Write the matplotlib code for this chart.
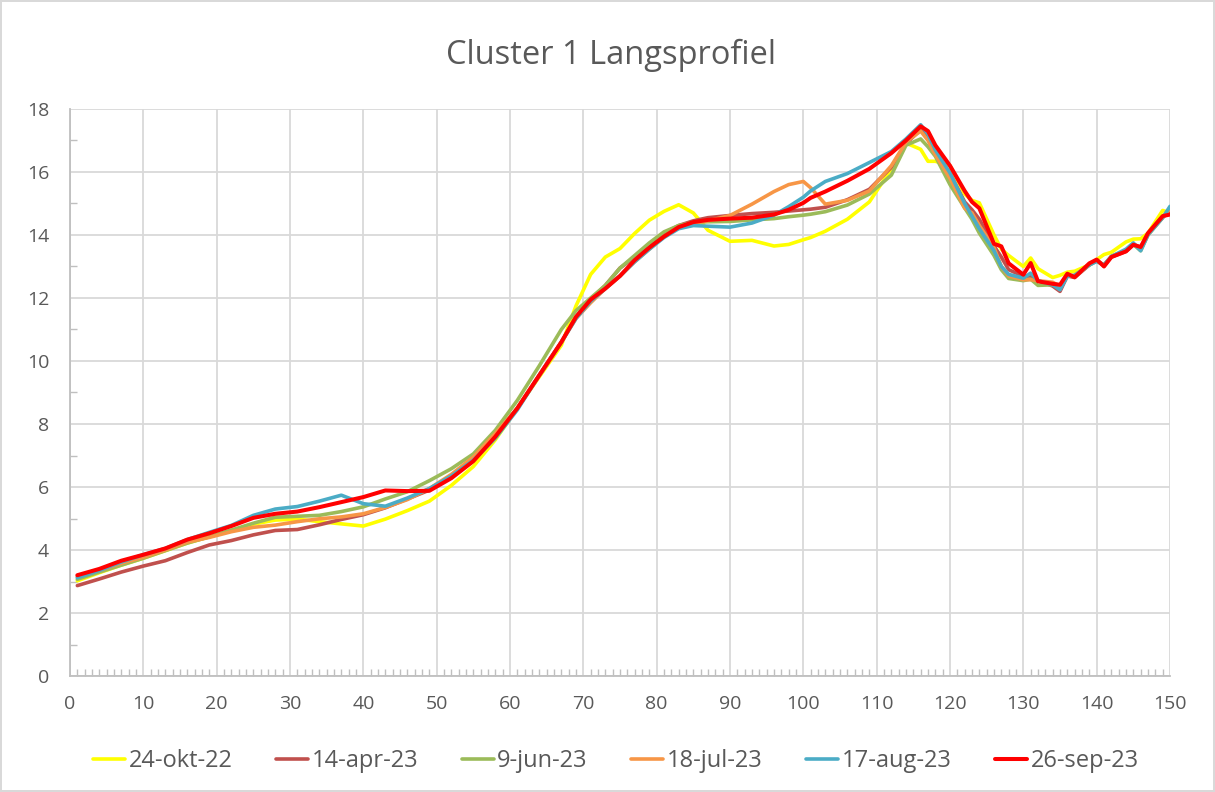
import numpy as np
import matplotlib.pyplot as plt
from matplotlib.ticker import MultipleLocator

# Position along the profile (shared by all series)
km = [1, 4, 7, 10, 13, 16, 19, 22, 25, 28,
      31, 34, 37, 40, 43, 46, 49, 52, 55, 58,
      61, 64, 67, 69, 71, 73, 75, 77, 79, 81,
      83, 85, 87, 90, 93, 96, 98, 100, 101, 103,
      106, 109, 112, 114, 116, 117, 118, 120, 122, 123,
      124, 126, 127, 128, 130, 131, 132, 134, 135, 136,
      137, 139, 140, 141, 142, 144, 145, 146, 147, 149,
      150]

okt22 = [3.02, 3.28, 3.52, 3.74, 3.98, 4.22, 4.42, 4.62, 4.82, 4.95,
         4.98, 4.90, 4.83, 4.76, 4.98, 5.25, 5.55, 6.05, 6.65, 7.50,
         8.50, 9.50, 10.50, 11.75, 12.75, 13.30, 13.57, 14.05, 14.47, 14.75,
         14.96, 14.70, 14.15, 13.80, 13.83, 13.65, 13.70, 13.85, 13.92, 14.12,
         14.50, 15.05, 16.10, 16.92, 16.72, 16.34, 16.34, 16.20, 15.30, 15.10,
         15.02, 14.00, 13.55, 13.35, 13.00, 13.27, 12.93, 12.65, 12.72, 12.82,
         12.85, 13.05, 13.22, 13.38, 13.45, 13.78, 13.87, 13.88, 14.06, 14.78,
         14.70]

apr23 = [2.87, 3.08, 3.30, 3.49, 3.66, 3.92, 4.16, 4.30, 4.48, 4.62,
         4.65, 4.80, 4.97, 5.12, 5.34, 5.62, 5.90, 6.35, 6.90, 7.65,
         8.50, 9.55, 10.60, 11.40, 11.95, 12.40, 12.95, 13.30, 13.60, 14.05,
         14.30, 14.45, 14.55, 14.62, 14.68, 14.72, 14.76, 14.80, 14.82, 14.88,
         15.12, 15.45, 16.15, 16.90, 17.35, 17.10, 16.60, 15.95, 15.05, 14.80,
         14.50, 13.65, 13.30, 12.90, 12.69, 12.70, 12.55, 12.38, 12.21, 12.70,
         12.65, 13.05, 13.20, 13.02, 13.30, 13.48, 13.70, 13.60, 14.05, 14.58,
         14.70]

jun23 = [3.07, 3.30, 3.52, 3.74, 3.98, 4.22, 4.42, 4.63, 4.85, 5.04,
         5.07, 5.10, 5.22, 5.37, 5.62, 5.85, 6.20, 6.58, 7.05, 7.80,
         8.75, 9.85, 11.00, 11.60, 12.00, 12.40, 12.95, 13.35, 13.75, 14.10,
         14.30, 14.40, 14.42, 14.43, 14.48, 14.52, 14.58, 14.63, 14.66, 14.74,
         14.95, 15.30, 15.90, 16.85, 17.05, 16.80, 16.50, 15.60, 14.86, 14.50,
         14.06, 13.35, 12.90, 12.62, 12.55, 12.60, 12.40, 12.42, 12.37, 12.69,
         12.70, 13.05, 13.18, 13.05, 13.32, 13.50, 13.70, 13.50, 14.00, 14.55,
         14.85]

jul23 = [3.15, 3.35, 3.58, 3.77, 4.00, 4.25, 4.40, 4.58, 4.72, 4.79,
         4.90, 4.99, 5.05, 5.15, 5.35, 5.60, 5.95, 6.40, 6.95, 7.70,
         8.50, 9.55, 10.60, 11.35, 11.85, 12.30, 12.70, 13.15, 13.55, 13.95,
         14.25, 14.38, 14.45, 14.62, 14.98, 15.38, 15.60, 15.70, 15.50, 14.98,
         15.10, 15.40, 16.20, 16.95, 17.30, 17.00, 16.55, 15.80, 14.85, 14.70,
         14.30, 13.60, 13.00, 12.70, 12.58, 12.58, 12.55, 12.50, 12.37, 12.70,
         12.72, 13.05, 13.18, 13.05, 13.32, 13.50, 13.72, 13.55, 14.02, 14.55,
         14.85]

aug23 = [3.12, 3.35, 3.62, 3.85, 4.05, 4.33, 4.56, 4.78, 5.10, 5.30,
         5.38, 5.55, 5.74, 5.47, 5.39, 5.65, 5.95, 6.35, 6.85, 7.55,
         8.45, 9.55, 10.60, 11.35, 11.90, 12.30, 12.70, 13.15, 13.55, 13.92,
         14.20, 14.30, 14.28, 14.25, 14.38, 14.63, 14.90, 15.20, 15.40, 15.70,
         15.95, 16.30, 16.65, 17.05, 17.50, 17.20, 16.70, 15.97, 15.00, 14.60,
         14.20, 13.50, 13.00, 12.75, 12.63, 12.79, 12.55, 12.42, 12.26, 12.69,
         12.72, 13.05, 13.16, 13.05, 13.32, 13.55, 13.75, 13.50, 14.01, 14.55,
         14.91]

sep23 = [3.20, 3.40, 3.66, 3.85, 4.05, 4.33, 4.53, 4.76, 5.02, 5.15,
         5.22, 5.36, 5.52, 5.68, 5.89, 5.87, 5.88, 6.28, 6.82, 7.60,
         8.50, 9.55, 10.60, 11.40, 11.95, 12.30, 12.70, 13.20, 13.60, 13.95,
         14.25, 14.41, 14.48, 14.52, 14.55, 14.65, 14.80, 15.02, 15.18, 15.38,
         15.72, 16.10, 16.60, 17.00, 17.45, 17.30, 16.85, 16.20, 15.40, 15.05,
         14.85, 13.72, 13.64, 13.10, 12.74, 13.11, 12.53, 12.45, 12.42, 12.77,
         12.66, 13.10, 13.22, 13.00, 13.30, 13.48, 13.69, 13.62, 14.06, 14.60,
         14.65]

series = [
    ("24-okt-22", okt22, "#FFFF00", 2.6),
    ("14-apr-23", apr23, "#C0504D", 2.6),
    ("9-jun-23", jun23, "#9BBB59", 2.6),
    ("18-jul-23", jul23, "#F79646", 2.6),
    ("17-aug-23", aug23, "#4BACC6", 2.6),
    ("26-sep-23", sep23, "#FF0000", 2.9),
]

plt.rcParams['font.family'] = ['Open Sans', 'DejaVu Sans']
text_col = '#595959'
grid_col = '#d9d9d9'

fig = plt.figure(figsize=(12.15, 7.92), dpi=100, edgecolor=grid_col, linewidth=1.5)
ax = fig.add_axes([70/1215, 1 - 676/792, 1100/1215, 567/792])

for label, vals, col, lw in series:
    ax.plot(km, vals, color=col, linewidth=lw, label=label, solid_capstyle='round')

ax.set_xlim(0, 150)
ax.set_ylim(0, 18)
ax.xaxis.set_major_locator(MultipleLocator(10))
ax.xaxis.set_minor_locator(MultipleLocator(1))
ax.yaxis.set_major_locator(MultipleLocator(2))
ax.yaxis.set_minor_locator(MultipleLocator(1))
ax.grid(True, which='major', color=grid_col, linewidth=1.3)
ax.set_axisbelow(True)

for side in ['top', 'right']:
    ax.spines[side].set_visible(False)
for side in ['left', 'bottom']:
    ax.spines[side].set_color('#bfbfbf')
    ax.spines[side].set_linewidth(1.3)

ax.tick_params(which='major', length=0, labelsize=14, labelcolor=text_col)
ax.tick_params(axis='x', which='major', pad=14)
ax.tick_params(axis='y', which='major', pad=15)
ax.tick_params(which='minor', direction='in', length=5, color='#bfbfbf', width=1)

fig.suptitle('Cluster 1 Langsprofiel', x=0.503, y=1 - 55/792, va='center',
             fontsize=23.5, color=text_col)

fig.legend(loc='center', bbox_to_anchor=(0.507, 1 - 761/792), ncol=6, frameon=False,
           fontsize=17, labelcolor=text_col, handlelength=1.35, columnspacing=1.85,
           handletextpad=0.15)

plt.savefig("out.png", dpi=100)
